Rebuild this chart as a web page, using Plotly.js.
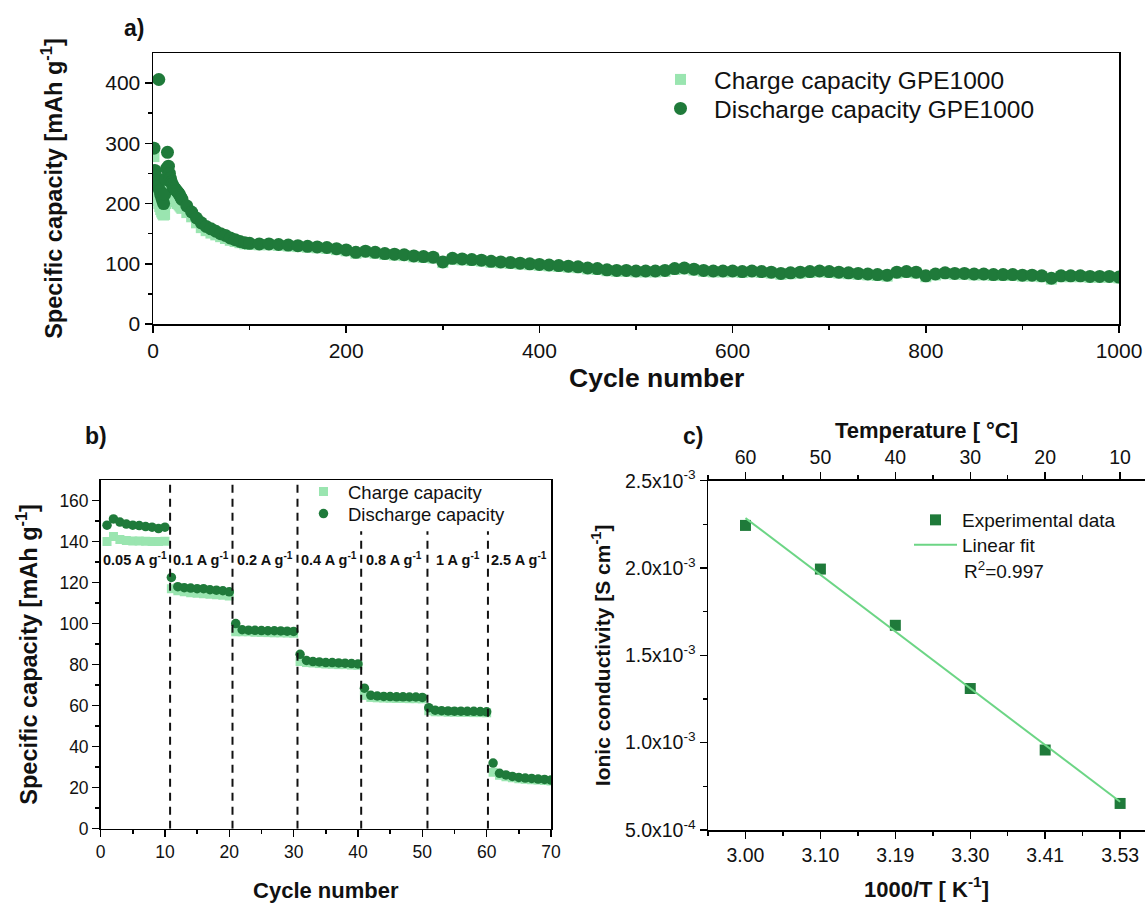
<!DOCTYPE html>
<html>
<head>
<meta charset="utf-8">
<script src="https://cdn.plot.ly/plotly-3.0.1.min.js"></script>
<style>html,body{margin:0;padding:0;background:#fff;}#chart{width:1145px;height:903px;}</style>
</head>
<body>
<div id="chart"></div>
<script>
// ---------- Panel a: long-term cycling ----------
const cyclesA = [1,2,3,4,5,6,7,8,9,10,11,12,13,14,15,16,17,18,19,20,21,22,23,24,25,26,27,28,29,30,
  35,40,45,50,55,60,65,70,75,80,85,90,95,100,
  110,120,130,140,150,160,170,180,190,200,210,220,230,240,250,260,270,280,290,300,
  310,320,330,340,350,360,370,380,390,400,410,420,430,440,450,460,470,480,490,500,
  510,520,530,540,550,560,570,580,590,600,610,620,630,640,650,660,670,680,690,700,
  710,720,730,740,750,760,770,780,790,800,810,820,830,840,850,860,870,880,890,900,
  910,920,930,940,950,960,970,980,990,1000];
const dischargeA = [292,255,245,238,228,406,222,215,210,205,200,215,240,258,285,262,250,242,236,232,228,226,224,222,220,218,216,213,210,207,
  196,186,176,168,162,158,154,150,147,143,140,137,135,134,
  133,133,132,131,130,129,128,127,125,123,119,121,119,117,116,115,113,112,111,103,
  109,108,107,106,104,103,102,101,100,99,98,97,96,95,93,92,90,89,89,88,
  88,88,89,92,93,91,89,88,88,88,87,88,87,86,84,85,86,87,88,87,
  86,85,84,83,82,81,86,87,86,80,83,85,84,84,83,83,82,82,82,81,
  81,80,76,80,80,80,79,79,79,78];
const chargeA = [278,230,220,212,205,200,195,190,186,183,181,182,200,220,245,240,232,225,220,216,213,210,206,203,200,200,198,196,194,192,
  185,178,168,160,155,151,148,145,142,139,137,135,133,132,
  131.5,131.5,130.5,129.5,128.5,127.5,126.5,125.5,123.5,121.5,117.5,119.5,117.5,115.5,114.5,113.5,111.5,110.5,109.5,102,
  107.5,106.5,105.5,104.5,102.5,101.5,100.5,99.5,98.5,97.5,96.5,95.5,94.5,93.5,91.5,90.5,88.5,87.5,87.5,86.5,
  86.5,86.5,87.5,90.5,91.5,89.5,87.5,86.5,86.5,86.5,85.5,86.5,85.5,84.5,82.5,83.5,84.5,85.5,86.5,85.5,
  84.5,83.5,82.5,81.5,80.5,79.5,84.5,85.5,84.5,78.5,81.5,83.5,82.5,82.5,81.5,81.5,80.5,80.5,80.5,79.5,
  79.5,78.5,74.5,78.5,78.5,78.5,77.5,77.5,77.5,76.5];

// ---------- Panel b: rate capability ----------
const cyclesB = [1,2,3,4,5,6,7,8,9,10,11,12,13,14,15,16,17,18,19,20,21,22,23,24,25,26,27,28,29,30,
  31,32,33,34,35,36,37,38,39,40,41,42,43,44,45,46,47,48,49,50,51,52,53,54,55,56,57,58,59,60,
  61,62,63,64,65,66,67,68,69,70];
const dischargeB = [148,151,149.5,148.5,148,147.8,147.3,147,146.3,147,
  122.5,118,117.5,117.3,117,117,116.5,116.3,116,115.5,
  100,97,96.8,96.7,96.6,96.5,96.5,96.4,96.3,96.2,
  85,82,81.5,81.3,81,81,80.8,80.7,80.5,80.3,
  68.5,65,64.7,64.5,64.4,64.3,64.3,64.2,64.2,64,
  59,57.8,57.5,57.4,57.3,57.3,57.2,57.2,57.1,57,
  32,27,26.2,25.5,25,24.7,24.5,24.2,24,23.7];
const chargeB = [140,142.5,141,140.5,140.3,140.3,140.2,140,140,140.2,
  117,116,115.5,115,114.8,114.5,114.3,114,113.8,113.5,
  96,96,96,95.8,95.7,95.6,95.5,95.5,95.4,95.3,
  81.5,81,80.8,80.5,80.3,80.2,80,80,79.8,79.7,
  65,64,63.8,63.7,63.6,63.5,63.5,63.4,63.4,63.3,
  57.5,57,57,56.8,56.8,56.7,56.7,56.6,56.6,56.5,
  27.5,26,25.3,24.8,24.4,24.1,23.9,23.7,23.5,23.3];
const rateBoundaries = [10.8, 20.5, 30.6, 40.5, 50.8, 60.2];
const boundaryTops = [170, 170, 170, 145, 145, 145];
const rateLabels = ['0.05 A g<sup>-1</sup>','0.1 A g<sup>-1</sup>','0.2 A g<sup>-1</sup>','0.4 A g<sup>-1</sup>','0.8 A g<sup>-1</sup>','1 A g<sup>-1</sup>','2.5 A g<sup>-1</sup>'];

// ---------- Panel c: Arrhenius ----------
const tempC = [60, 50, 40, 30, 20, 10];
const invTLabels = ['3.00','3.10','3.19','3.30','3.41','3.53'];
const conductivity = [2.244e-3, 1.994e-3, 1.672e-3, 1.31e-3, 0.958e-3, 0.652e-3];
const fitT = [60, 10];
const fitSigma = [2.286e-3, 0.662e-3];
const condTicks = [5e-4, 1e-3, 1.5e-3, 2e-3, 2.5e-3];
const condTickText = ['5.0x10<sup>-4</sup>','1.0x10<sup>-3</sup>','1.5x10<sup>-3</sup>','2.0x10<sup>-3</sup>','2.5x10<sup>-3</sup>'];

const DARK = '#1f7a3a';
const LIGHT = '#9ae5b0';
const FIT = '#6cd585';
const FONT = 'Liberation Sans, Arial, sans-serif';
const TXT = '#111';

const W = 1145, H = 903;
const px = v => v / W;
const py = v => 1 - v / H;

const traces = [
  {x: cyclesA, y: chargeA, type: 'scatter', mode: 'markers', name: 'Charge capacity GPE1000',
   marker: {symbol: 'square', size: 11, color: LIGHT}, xaxis: 'x', yaxis: 'y', legend: 'legend'},
  {x: cyclesA, y: dischargeA, type: 'scatter', mode: 'markers', name: 'Discharge capacity GPE1000',
   marker: {symbol: 'circle', size: 13, color: DARK}, xaxis: 'x', yaxis: 'y', legend: 'legend4'},
  {x: cyclesB, y: chargeB, type: 'scatter', mode: 'markers', name: 'Charge capacity',
   marker: {symbol: 'square', size: 9, color: LIGHT}, xaxis: 'x2', yaxis: 'y2', legend: 'legend2'},
  {x: cyclesB, y: dischargeB, type: 'scatter', mode: 'markers', name: 'Discharge capacity',
   marker: {symbol: 'circle', size: 9.5, color: DARK}, xaxis: 'x2', yaxis: 'y2', legend: 'legend5'},
  {x: tempC, y: conductivity, type: 'scatter', mode: 'markers', name: 'Experimental data',
   marker: {symbol: 'square', size: 11, color: DARK}, xaxis: 'x3', yaxis: 'y3', legend: 'legend3'},
  {x: fitT, y: fitSigma, type: 'scatter', mode: 'lines', name: 'Linear fit',
   line: {color: FIT, width: 2}, xaxis: 'x3', yaxis: 'y3', legend: 'legend6'},
  // invisible companion so the top temperature axis is drawn
  {x: tempC, y: conductivity, type: 'scatter', mode: 'markers', showlegend: false, hoverinfo: 'skip',
   marker: {size: 1, opacity: 0}, xaxis: 'x4', yaxis: 'y3'}
];

const minorCfg = vals => ({tickvals: vals, ticks: 'outside', ticklen: 4, tickwidth: 1.5, tickcolor: '#000'});
const axisBase = {
  showline: true, linecolor: '#000', linewidth: 1.5, ticks: 'outside', ticklen: 7, tickwidth: 1.5,
  tickcolor: '#000', showgrid: false, zeroline: false, tickfont: {family: FONT, size: 18, color: TXT}
};

const shapes = rateBoundaries.map((b, i) => ({
  type: 'line', xref: 'x2', yref: 'y2', x0: b, x1: b, y0: 0, y1: boundaryTops[i],
  line: {color: '#111', width: 2, dash: '8px,6px'}
}));

const segEdges = [0].concat(rateBoundaries, [70]);
const annotations = rateLabels.map((t, i) => ({
  xref: 'x2', yref: 'y2', x: (segEdges[i] + segEdges[i + 1]) / 2, y: 131.5, text: '<b>' + t + '</b>',
  showarrow: false, xanchor: 'center', yanchor: 'middle', font: {family: FONT, size: 14.5, color: TXT}
}));
const paperText = (x, y, t, size, xa) => ({xref: 'paper', yref: 'paper', x: px(x), y: py(y), xanchor: xa || 'center', yanchor: 'middle',
  text: t, showarrow: false, font: {family: FONT, size: size, color: TXT}});
annotations.push(
  paperText(134, 28, '<b>a)</b>', 23),
  paperText(96, 436, '<b>b)</b>', 23),
  paperText(693, 436, '<b>c)</b>', 23),
  paperText(656, 378, '<b>Cycle number</b>', 26.5),
  paperText(962, 570, 'R<sup>2</sup>=0.997', 19, 'left')
);

const legendBase = {xanchor: 'left', yanchor: 'top', bgcolor: 'rgba(0,0,0,0)'};
const layout = {
  width: W, height: H, margin: {l: 0, r: 0, t: 0, b: 0}, paper_bgcolor: '#fff', plot_bgcolor: '#fff',
  font: {family: FONT, color: TXT}, showlegend: true,
  xaxis: Object.assign({}, axisBase, {domain: [px(153), px(1119)], range: [0, 1000], anchor: 'y', mirror: true,
    tickvals: [0,200,400,600,800,1000], minor: minorCfg([100,300,500,700,900]), tickfont: {family: FONT, size: 21, color: TXT}}),
  yaxis: Object.assign({}, axisBase, {domain: [py(324), py(53)], range: [0, 450], anchor: 'x', mirror: true,
    tickvals: [0,100,200,300,400], minor: minorCfg([50,150,250,350]), tickfont: {family: FONT, size: 21, color: TXT},
    title: {text: '<b>Specific capacity [mAh g<sup>-1</sup>]</b>', font: {family: FONT, size: 23.5, color: TXT}, standoff: 36}}),
  xaxis2: Object.assign({}, axisBase, {domain: [px(100.6), px(551)], range: [0, 70], anchor: 'y2', mirror: true,
    tickvals: [0,10,20,30,40,50,60,70], minor: minorCfg([5,15,25,35,45,55,65]), tickfont: {family: FONT, size: 17.5, color: TXT},
    title: {text: '<b>Cycle number</b>', font: {family: FONT, size: 22, color: TXT}, standoff: 26}}),
  yaxis2: Object.assign({}, axisBase, {domain: [py(828.7), py(480)], range: [0, 170], anchor: 'x2', mirror: true,
    tickvals: [0,20,40,60,80,100,120,140,160], minor: minorCfg([10,30,50,70,90,110,130,150]), tickfont: {family: FONT, size: 17.5, color: TXT},
    title: {text: '<b>Specific capacity [mAh g<sup>-1</sup>]</b>', font: {family: FONT, size: 23.5, color: TXT}, standoff: 15}}),
  xaxis3: Object.assign({}, axisBase, {domain: [px(708), 1], range: [65, 6.68], anchor: 'y3',
    tickvals: tempC, ticktext: invTLabels, tickfont: {family: FONT, size: 19.5, color: TXT},
    minor: minorCfg([65,55,45,35,25,15]),
    title: {text: '<b>1000/T [ K<sup>-1</sup>]</b>', font: {family: FONT, size: 22, color: TXT}, standoff: 16}}),
  xaxis4: Object.assign({}, axisBase, {overlaying: 'x3', side: 'top', range: [65, 6.68], anchor: 'y3',
    tickvals: tempC, tickfont: {family: FONT, size: 19.5, color: TXT},
    minor: minorCfg([65,55,45,35,25,15]),
    title: {text: '<b>Temperature [ °C]</b>', font: {family: FONT, size: 22, color: TXT}, standoff: 1}}),
  yaxis3: Object.assign({}, axisBase, {domain: [py(830), py(480.7)], range: [5e-4, 2.5e-3], anchor: 'x3',
    tickvals: condTicks, ticktext: condTickText, tickfont: {family: FONT, size: 19.5, color: TXT},
    minor: minorCfg([7.5e-4, 1.25e-3, 1.75e-3, 2.25e-3]),
    title: {text: '<b>Ionic conductivity [S cm<sup>-1</sup>]</b>', font: {family: FONT, size: 21, color: TXT}, standoff: 8}}),
  legend: Object.assign({}, legendBase, {x: px(647), y: py(57), itemwidth: 57, font: {family: FONT, size: 24.5, color: TXT}}),
  legend4: Object.assign({}, legendBase, {x: px(647), y: py(86), itemwidth: 57, font: {family: FONT, size: 24.5, color: TXT}}),
  legend2: Object.assign({}, legendBase, {x: px(299), y: py(473), itemwidth: 39, font: {family: FONT, size: 18.5, color: TXT}}),
  legend5: Object.assign({}, legendBase, {x: px(299), y: py(495), itemwidth: 39, font: {family: FONT, size: 18.5, color: TXT}}),
  legend3: Object.assign({}, legendBase, {x: px(909), y: py(501), itemwidth: 43, font: {family: FONT, size: 19, color: TXT}}),
  legend6: Object.assign({}, legendBase, {x: px(909), y: py(526), itemwidth: 43, font: {family: FONT, size: 19, color: TXT}}),
  shapes: shapes,
  annotations: annotations
};

Plotly.newPlot('chart', traces, layout, {displayModeBar: false, staticPlot: true});
</script>
</body>
</html>
